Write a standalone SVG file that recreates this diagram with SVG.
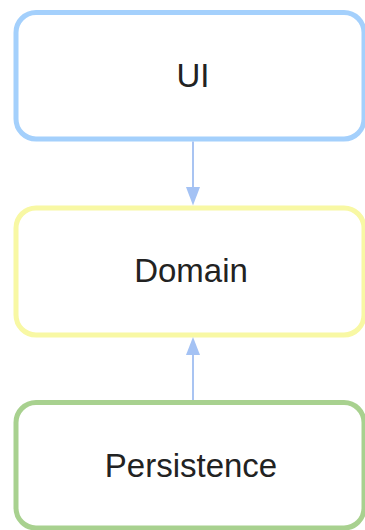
<svg xmlns="http://www.w3.org/2000/svg" width="365" height="530" viewBox="0 0 365 530">
  <defs>
    <style>
      .box { fill: #ffffff; stroke-width: 5; }
      .ui { stroke: #a4d0fc; }
      .domain { stroke: #f8f8a4; }
      .persistence { stroke: #a8d18f; }
      .label { font-family: "Liberation Sans", Arial, sans-serif; font-size: 33px; fill: #222222; text-anchor: middle; }
      .link { stroke: #a9c4f2; stroke-width: 2; fill: none; }
      .head { fill: #a4c2f4; }
    </style>
  </defs>
  <rect width="365" height="530" fill="#ffffff"/>

  <g id="node-ui">
    <rect class="box ui" x="16" y="12.5" width="348" height="126.5" rx="20" ry="20"/>
    <text class="label" x="193" y="87">UI</text>
  </g>

  <g id="node-domain">
    <rect class="box domain" x="16" y="208" width="348" height="127" rx="20" ry="20"/>
    <text class="label" x="191" y="282">Domain</text>
  </g>

  <g id="node-persistence">
    <rect class="box persistence" x="16" y="402.5" width="348" height="125.5" rx="20" ry="20"/>
    <text class="label" x="191" y="477">Persistence</text>
  </g>

  <g id="connectors">
    <!-- UI depends on Domain -->
    <line class="link" x1="193" y1="141.5" x2="193" y2="190"/>
    <polygon class="head" points="186,187 200,187 193,205.5"/>
    <!-- Persistence depends on Domain -->
    <line class="link" x1="193" y1="400" x2="193" y2="352"/>
    <polygon class="head" points="186,355 200,355 193,337"/>
  </g>
</svg>
